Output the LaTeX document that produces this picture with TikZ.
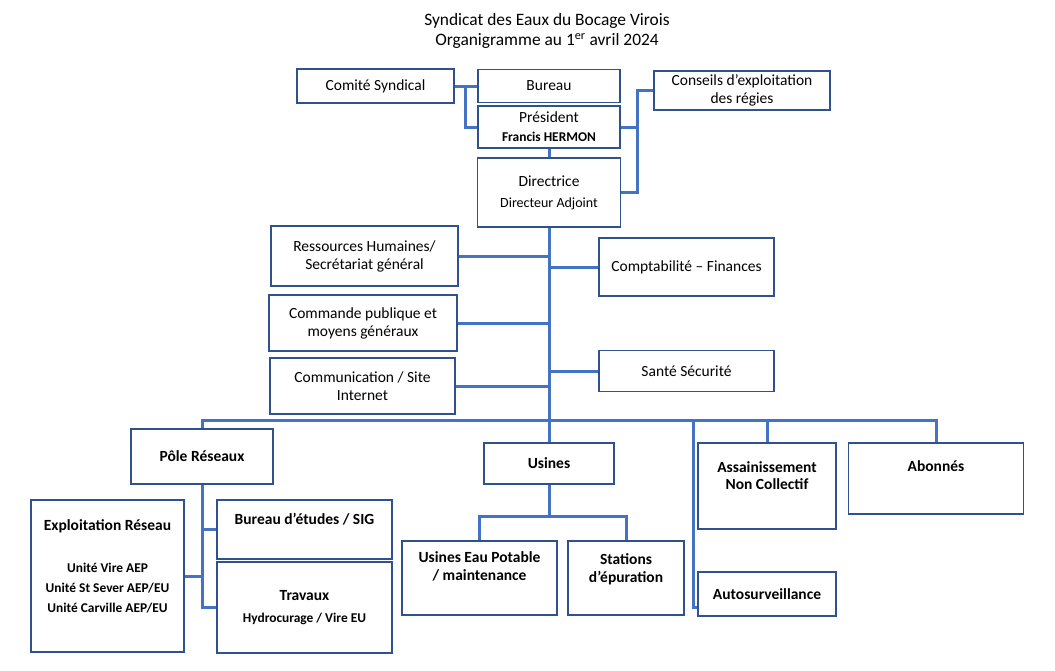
\documentclass[tikz,border=0pt]{standalone}
\usepackage{fontspec}
\setmainfont{Carlito}
\usepackage{xcolor}
\usetikzlibrary{positioning}

\definecolor{boxline}{HTML}{2F528F}
\definecolor{linkline}{HTML}{4472C4}
\newcommand{\bodysize}{\fontsize{15.5}{18}\selectfont}
\newcommand{\smallsize}{\fontsize{13.4}{20}\selectfont}
\newcommand{\titlesize}{\fontsize{17.4}{20}\selectfont}

\begin{document}
\begin{tikzpicture}[x=1pt,y=-1pt,
    main box/.style={rectangle,draw=boxline,line width=1.2pt,inner sep=2pt,align=center,font=\bodysize},
    bold box/.style={main box,font=\bodysize\bfseries},
    top text/.style={anchor=north,inner sep=0pt,align=center,font=\bodysize\bfseries},
    link/.style={draw=linkline,line width=3pt}]

  \useasboundingbox (0,0) rectangle (1055,670);

  \node (title) [align=center,font=\titlesize] at (547,31) {Syndicat des Eaux du Bocage Virois\\Organigramme au 1\textsuperscript{er} avril 2024};

  % direction
  \node[main box,minimum width=157,minimum height=34] (comite) at (375.5,86) {Comité Syndical};
  \node[main box,minimum width=142,minimum height=33] (bureau) at (549,86) {Bureau};
  \node[main box,minimum width=142,minimum height=42] (president) at (549,127) {Président\\[1pt]{\smallsize\bfseries Francis HERMON}};
  \node[main box,minimum width=176,minimum height=39] (conseils) at (742,90.5) {Conseils d’exploitation\\des régies};
  \node[main box,minimum width=143,minimum height=69] (directrice) at (549,192.5) {Directrice\\[3pt]{\fontsize{14}{18}\selectfont Directeur Adjoint}};

  % services
  \node[main box,minimum width=187,minimum height=60] (rh) at (364.5,256) {Ressources Humaines/\\Secrétariat général};
  \node[main box,minimum width=188,minimum height=56] (commande) at (363,323) {Commande publique et\\moyens généraux};
  \node[main box,minimum width=185,minimum height=56] (communication) at (362.5,386) {Communication / Site\\Internet};
  \node[main box,minimum width=175,minimum height=58] (compta) at (686.5,267) {Comptabilité – Finances};
  \node[main box,minimum width=175,minimum height=41] (sante) at (686.5,371) {Santé Sécurité};

  % poles
  \node[bold box,minimum width=142,minimum height=55] (pole) at (202,456.5) {Pôle Réseaux};
  \node[bold box,minimum width=130,minimum height=41] (usines) at (549,463.5) {Usines};
  \node[main box,minimum width=138,minimum height=86,
        label={[top text,yshift=-19]north:Assainissement\\[-1pt]Non Collectif}] (assain) at (767,486) {};
  \node[main box,minimum width=175,minimum height=71,
        label={[top text,yshift=-18]north:Abonnés}] (abonnes) at (936,478.5) {};
  \node[bold box,minimum width=138,minimum height=44] (autosurv) at (767,594) {Autosurveillance};

  \node[main box,minimum width=153,minimum height=152,
        label={[top text,yshift=-20]north:Exploitation Réseau\\[24pt]{\smallsize Unité Vire AEP}\\[2pt]{\smallsize Unité St Sever AEP/EU}\\[2pt]{\smallsize Unité Carville AEP/EU}}] (exploit) at (107.5,576) {};
  \node[main box,minimum width=175,minimum height=59,
        label={[top text,yshift=-14]north:Bureau d’études / SIG}] (bureauet) at (304.5,529.5) {};
  \node[bold box,minimum width=175,minimum height=91] (travaux) at (304.5,607.5) {Travaux\\[4pt]{\smallsize Hydrocurage / Vire EU}};
  \node[main box,minimum width=155,minimum height=74,
        label={[top text,yshift=-11]north:Usines Eau Potable\\/ maintenance}] (eaupot) at (479.5,578) {};
  \node[main box,minimum width=116,minimum height=74,
        label={[top text,yshift=-13]north:Stations\\d’épuration}] (stations) at (626,578) {};

  % links
  \coordinate (cs) at (465,86);
  \coordinate (rt) at (637,90.5);
  \coordinate (bus) at (549,420);
  \coordinate (as) at (693,607);
  \coordinate (uj) at (549,516);

  \draw[link] (comite.east) -- (bureau.west);
  \draw[link] (cs) |- (president.west);
  \draw[link] (president.east) -- (president.east -| rt);
  \draw[link] (conseils.west) -- (rt) |- (directrice.east);
  \draw[link] (president.south) -- (directrice.north);
  \draw[link] (directrice.south) -- (usines.north);

  \draw[link] (rh.east) -- (rh.east -| directrice.south);
  \draw[link] (commande.east) -- (commande.east -| directrice.south);
  \draw[link] (communication.east) -- (communication.east -| directrice.south);
  \draw[link] (compta.west) -- (compta.west -| directrice.south);
  \draw[link] (sante.west) -- (sante.west -| directrice.south);

  \draw[link] (pole.north) |- (bus -| abonnes.north) -- (abonnes.north);
  \draw[link] (assain.north) -- (assain.north |- bus);
  \draw[link] (autosurv.west |- as) -- (as) -- (as |- bus);

  \draw[link] (usines.south) -- (uj);
  \draw[link] (eaupot.north) |- (uj) -| (stations.north);

  \draw[link] (pole.south) |- (travaux.west);
  \draw[link] (bureauet.west) -- (bureauet.west -| pole.south);
  \draw[link] (exploit.east) -- (exploit.east -| pole.south);
\end{tikzpicture}
\end{document}
